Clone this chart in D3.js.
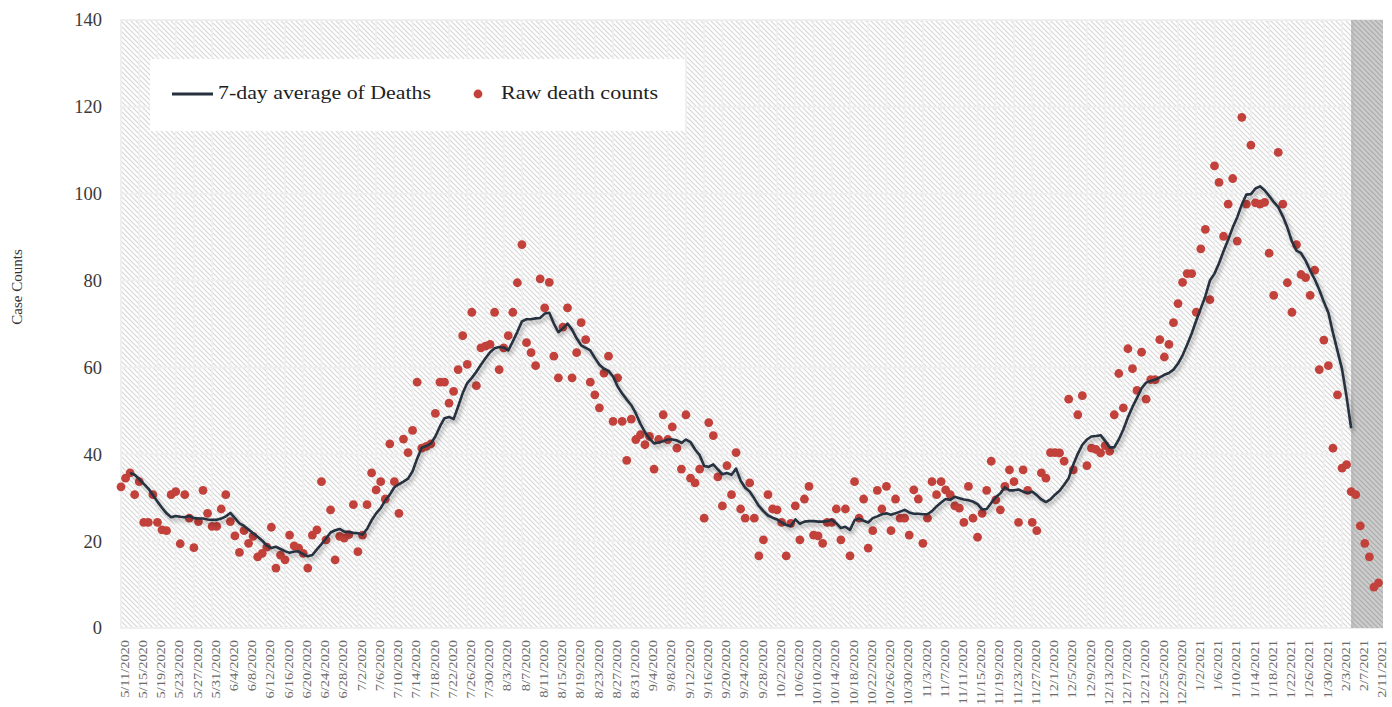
<!DOCTYPE html>
<html><head><meta charset="utf-8">
<script src="https://cdn.jsdelivr.net/npm/d3@7"></script>
<style>
body{margin:0;background:#fff;}
svg{display:block;font-family:"Liberation Serif","Times New Roman",serif;}
</style>
</head><body>
<svg id="chart" width="1392" height="707"></svg>
<script>
// ---------- data ----------
const seriesNames = ["7-day average of Deaths", "Raw death counts"];
const firstDay = "2020-05-11";
const lastDay = "2021-02-11";
const incompleteFrom = "2/5/2021";
const yTicks = [0, 20, 40, 60, 80, 100, 120, 140];
const yTitle = "Case Counts";
const tickLabels = ["5/11/2020","5/15/2020","5/19/2020","5/23/2020","5/27/2020","5/31/2020","6/4/2020","6/8/2020","6/12/2020","6/16/2020","6/20/2020","6/24/2020","6/28/2020","7/2/2020","7/6/2020","7/10/2020","7/14/2020","7/18/2020","7/22/2020","7/26/2020","7/30/2020","8/3/2020","8/7/2020","8/11/2020","8/15/2020","8/19/2020","8/23/2020","8/27/2020","8/31/2020","9/4/2020","9/8/2020","9/12/2020","9/16/2020","9/20/2020","9/24/2020","9/28/2020","10/2/2020","10/6/2020","10/10/2020","10/14/2020","10/18/2020","10/22/2020","10/26/2020","10/30/2020","11/3/2020","11/7/2020","11/11/2020","11/15/2020","11/19/2020","11/23/2020","11/27/2020","12/1/2020","12/5/2020","12/9/2020","12/13/2020","12/17/2020","12/21/2020","12/25/2020","12/29/2020","1/2/2021","1/6/2021","1/10/2021","1/14/2021","1/18/2021","1/22/2021","1/26/2021","1/30/2021","2/3/2021","2/7/2021","2/11/2021"];
const rawDeaths = [
32.5,34.5,35.7,30.7,33.7,24.3,24.3,30.7,24.3,22.6,
22.4,30.7,31.4,19.4,30.7,25.3,18.5,24.5,31.7,26.4,
23.4,23.4,27.4,30.7,24.5,21.2,17.4,22.4,19.5,21.1,
16.4,17.2,18.6,23.2,13.8,16.8,15.7,21.4,18.9,18.4,
17.2,13.8,21.4,22.6,33.7,20.3,27.2,15.7,21.1,20.7,
21.5,28.4,17.6,21.4,28.4,35.7,31.8,33.7,29.7,42.4,
33.7,26.4,43.5,40.4,45.5,56.6,41.4,41.8,42.4,49.4,
56.6,56.6,51.8,54.5,59.5,67.3,60.7,72.7,55.8,64.5,
64.9,65.3,72.7,59.5,64.5,67.3,72.7,79.5,88.3,65.7,
63.4,60.4,80.4,73.7,79.6,62.6,57.6,69.3,73.7,57.6,
63.4,70.3,66.4,56.6,53.7,50.7,58.7,62.6,47.6,57.6,
47.6,38.6,48.1,43.4,44.5,42.2,44.1,36.6,43.4,49.1,
43.4,46.3,41.4,36.6,49.1,34.5,33.4,36.6,25.3,47.3,
44.3,34.8,28.1,37.4,30.7,40.4,27.4,25.3,33.4,25.3,
16.6,20.3,30.7,27.4,27.2,24.3,16.6,24.1,28.1,20.3,
29.7,32.6,21.4,21.2,19.5,24.3,24.3,27.4,20.3,27.4,
16.6,33.7,25.3,29.7,18.4,22.4,31.7,27.4,32.6,22.4,
29.7,25.3,25.3,21.4,31.8,29.7,19.5,25.3,33.7,30.7,
33.7,31.8,30.7,28.1,27.6,24.3,32.6,25.3,20.9,26.4,
31.7,38.4,29.5,27.2,32.6,36.4,33.7,24.3,36.4,31.7,
24.3,22.4,35.7,34.5,40.4,40.4,40.3,38.4,52.7,36.4,
49.1,53.5,37.4,41.4,41.1,40.3,42.0,40.7,49.1,58.6,
50.7,64.3,59.7,54.7,63.5,52.7,57.2,57.2,66.4,62.4,
65.3,70.3,74.7,79.6,81.6,81.6,72.7,87.3,91.8,75.6,
106.4,102.6,90.2,97.6,103.5,89.1,117.6,97.6,111.2,97.9,
97.6,98.0,86.3,76.6,109.5,97.6,79.5,72.7,88.3,81.4,
80.7,76.6,82.4,59.5,66.3,60.4,41.4,53.7,36.8,37.6,
31.4,30.7,23.5,19.5,16.4,9.4,10.4];
const avgDeaths = [
null,null,
35.7,35.3,34.3,33.2,32.1,30.6,29.1,27.7,26.4,25.5,
25.8,25.6,25.5,25.8,25.3,25.2,25.2,25.0,24.9,24.9,
25.2,25.7,26.5,25.3,24.1,23.5,22.7,21.8,21.0,20.1,
19.0,18.4,18.7,18.2,17.7,17.3,17.6,17.6,17.0,16.5,
16.8,18.1,19.3,20.6,22.0,22.5,22.8,22.2,22.1,21.9,
21.8,21.5,22.8,24.8,26.4,27.6,29.4,30.7,32.4,33.1,
33.7,34.4,36.1,39.0,41.5,41.9,42.5,44.1,46.4,48.3,
48.6,48.1,51.0,54.1,56.4,57.6,59.0,60.6,62.1,63.5,
64.4,64.7,64.6,63.9,66.0,68.2,70.6,71.1,71.1,71.3,
71.4,72.4,72.6,70.1,68.1,69.0,70.1,68.7,66.7,65.1,
64.5,63.9,62.2,60.6,59.7,59.2,57.9,55.6,54.0,52.6,
51.3,49.4,47.0,45.1,43.6,42.5,42.7,43.0,43.4,43.4,
43.2,42.6,43.4,42.8,41.1,39.8,37.3,37.1,37.7,36.5,
35.4,35.7,35.3,36.7,33.9,32.3,31.4,29.8,28.1,26.9,
25.9,25.4,25.0,24.3,23.7,23.5,25.0,24.0,24.5,24.6,
24.6,24.5,24.5,24.6,24.9,24.1,23.0,23.3,22.6,24.8,
25.2,24.7,24.3,25.3,25.7,26.2,26.4,26.1,26.4,26.8,
27.2,26.6,26.3,26.3,26.2,26.2,26.9,28.0,28.9,29.7,
29.5,30.2,29.9,29.6,29.4,29.1,28.5,27.3,27.4,28.8,
30.1,31.0,32.4,31.7,31.7,31.9,31.4,31.1,31.4,30.6,
29.6,29.0,29.6,30.7,31.6,33.0,34.5,37.6,40.1,42.2,
43.4,44.1,44.2,44.4,43.1,41.6,41.6,43.4,45.7,48.5,
50.9,53.0,55.2,56.5,56.9,57.2,57.7,58.3,58.7,59.5,
60.9,62.8,65.2,67.8,70.8,73.6,76.4,80.0,81.6,84.0,
86.8,89.4,92.2,94.6,97.5,99.8,99.9,101.2,101.7,100.8,
99.5,98.1,96.9,94.8,92.2,89.0,86.9,86.3,84.6,82.3,
80.3,77.9,75.1,72.6,68.0,63.8,59.6,53.2,46.0,
null,null,null,null,null,null];

// ---------- build ----------
const fmt = d3.timeFormat("%-m/%-d/%Y");
const parse = d3.timeParse("%Y-%m-%d");
const categories = d3.timeDay.range(parse(firstDay), d3.timeDay.offset(parse(lastDay), 1)).map(fmt);
const rows = categories.map((c, i) => ({cat: c, raw: rawDeaths[i], avg: avgDeaths[i]}));

const W = 1392, H = 707;
const plot = {left: 120, right: 1383, top: 20, bottom: 628};
const svg = d3.select("#chart");

const x = d3.scalePoint().domain(categories).range([121, 1378.5]);
const y = d3.scaleLinear().domain([0, 140]).range([plot.bottom, plot.top]);

const defs = svg.append("defs");
function hatch(id, bg, fg) {
  const p = defs.append("pattern").attr("id", id).attr("patternUnits", "userSpaceOnUse")
    .attr("width", 5).attr("height", 5);
  p.append("rect").attr("width", 5).attr("height", 5).attr("fill", bg);
  p.append("path").attr("d", "M-1,-1 L6,6 M-1,4 L1,6 M4,-1 L6,1")
    .attr("stroke", fg).attr("stroke-width", 1.1);
}
hatch("hatchWhite", "#ffffff", "#d6d6d6");
hatch("hatchGray", "#cccccc", "#ababab");
const f = defs.append("filter").attr("id", "shadow").attr("x", "-5%").attr("y", "-5%").attr("width", "110%").attr("height", "115%");
f.append("feDropShadow").attr("dx", 2).attr("dy", 3).attr("stdDeviation", 2)
  .attr("flood-color", "#000").attr("flood-opacity", 0.35);

// background
svg.append("rect").attr("width", W).attr("height", H).attr("fill", "#fff");
svg.append("rect").attr("x", plot.left).attr("y", plot.top)
  .attr("width", plot.right - plot.left).attr("height", plot.bottom - plot.top)
  .attr("fill", "url(#hatchWhite)");

// grid
svg.append("g").selectAll("line").data(tickLabels).join("line")
  .attr("x1", d => x(d)).attr("x2", d => x(d))
  .attr("y1", plot.top).attr("y2", plot.bottom)
  .attr("stroke", "#efefef").attr("stroke-width", 1.8);
svg.append("g").selectAll("line").data(yTicks).join("line")
  .attr("x1", plot.left).attr("x2", plot.right)
  .attr("y1", d => y(d)).attr("y2", d => y(d))
  .attr("stroke", "#efefef").attr("stroke-width", 2);

// incomplete-data band
svg.append("rect").attr("x", x(incompleteFrom)).attr("y", plot.top)
  .attr("width", plot.right - x(incompleteFrom)).attr("height", plot.bottom - plot.top)
  .attr("fill", "url(#hatchGray)");
svg.append("rect").attr("x", x(incompleteFrom)).attr("y", plot.top)
  .attr("width", 3).attr("height", plot.bottom - plot.top)
  .attr("fill", "#b5b5b5").attr("opacity", 0.6);

// y axis
const ya = svg.append("g").attr("transform", `translate(${plot.left},0)`)
  .call(d3.axisLeft(y).tickValues(yTicks).tickSize(0).tickPadding(18));
ya.select(".domain").remove();
ya.selectAll("text").attr("font-family", "Liberation Serif, serif").attr("font-size", 18.5)
  .attr("fill", "#3a3a3a");

// x axis
const sx = 1.2;
const xa = svg.append("g").attr("transform", `translate(0,${plot.bottom})`)
  .call(d3.axisBottom(x).tickValues(tickLabels).tickSize(0));
xa.select(".domain").remove();
xa.selectAll("text")
  .attr("font-family", "Liberation Serif, serif").attr("font-size", 12)
  .attr("fill", "#6a6a6a")
  .attr("text-anchor", "end")
  .attr("transform", `rotate(-90) scale(${sx},1)`)
  .attr("x", -12 / sx).attr("y", 3).attr("dy", "0.35em");

// y title
svg.append("text").attr("transform", "translate(22,287) rotate(-90)")
  .attr("text-anchor", "middle").attr("font-size", 15).attr("fill", "#333")
  .text(yTitle);

// raw dots
svg.append("g").selectAll("circle").data(rows.filter(d => d.raw != null)).join("circle")
  .attr("cx", d => x(d.cat)).attr("cy", d => y(d.raw)).attr("r", 4.4)
  .attr("fill", "#c3413b");

// 7-day average line
const line = d3.line().defined(d => d.avg != null).x(d => x(d.cat)).y(d => y(d.avg));
svg.append("path").datum(rows).attr("d", line)
  .attr("fill", "none").attr("stroke", "#27303f").attr("stroke-width", 2.6)
  .attr("stroke-linejoin", "round").attr("filter", "url(#shadow)");

// legend
const lg = svg.append("g");
lg.append("rect").attr("x", 150).attr("y", 59).attr("width", 535).attr("height", 72).attr("fill", "#fff");
lg.append("line").attr("x1", 172).attr("x2", 213).attr("y1", 94).attr("y2", 94)
  .attr("stroke", "#27303f").attr("stroke-width", 3);
lg.append("text").attr("x", 218).attr("y", 99).attr("font-size", 19.5).attr("fill", "#222")
  .attr("textLength", 213).attr("lengthAdjust", "spacingAndGlyphs").text(seriesNames[0]);
lg.append("circle").attr("cx", 478).attr("cy", 94).attr("r", 4.4).attr("fill", "#c3413b");
lg.append("text").attr("x", 501).attr("y", 99).attr("font-size", 19.5).attr("fill", "#222")
  .attr("textLength", 157).attr("lengthAdjust", "spacingAndGlyphs").text(seriesNames[1]);
</script>
</body></html>
